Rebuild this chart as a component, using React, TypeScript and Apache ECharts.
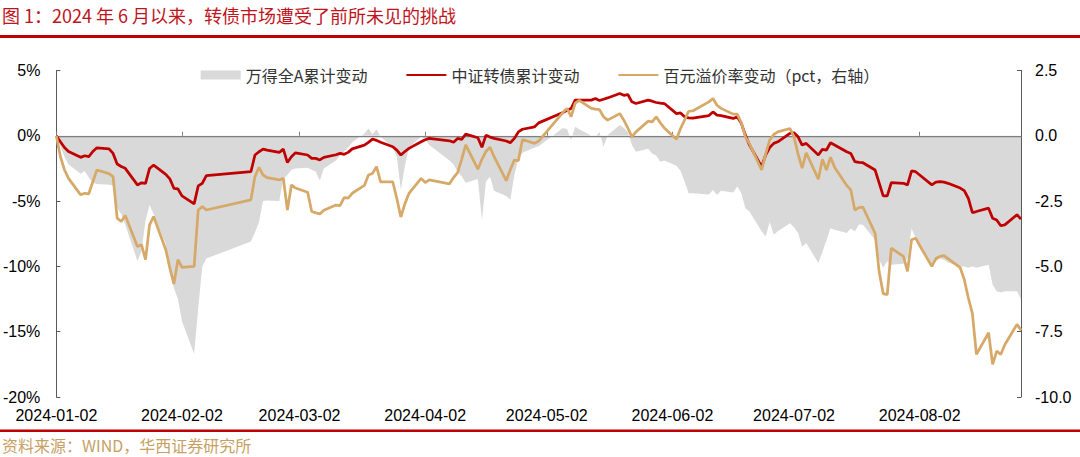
import React, { useEffect, useRef } from 'react';
import * as echarts from 'echarts';

const TITLE = '图 1：2024 年 6 月以来，转债市场遭受了前所未见的挑战';
const SOURCE = '资料来源：WIND，华西证券研究所';
const NAME_A = '万得全A累计变动';
const NAME_CB = '中证转债累计变动';
const NAME_PREM = '百元溢价率变动（pct，右轴）';
const YEAR = '2024';
const X_MIN = '2024-01-02';
const X_MAX = '2024-08-27';
const X_TICKS = ['2024-01-02', '2024-02-02', '2024-03-02', '2024-04-02', '2024-05-02', '2024-06-02', '2024-07-02', '2024-08-02'];

// 万得全A累计变动 (%)
const aDates = ['01-02','01-03','01-04','01-05','01-08','01-09','01-10','01-11','01-12','01-15','01-16','01-17','01-18','01-19','01-22','01-23','01-24','01-25','01-26','01-29','01-30','01-31','02-01','02-02','02-05','02-06','02-07','02-08','02-19','02-20','02-21','02-22','02-23','02-26','02-27','02-28','02-29','03-01','03-04','03-05','03-06','03-07','03-08','03-11','03-12','03-13','03-14','03-15','03-18','03-19','03-20','03-21','03-22','03-25','03-26','03-27','03-28','03-29','04-01','04-02','04-03','04-08','04-09','04-10','04-11','04-12','04-15','04-16','04-17','04-18','04-19','04-22','04-23','04-24','04-25','04-26','04-29','04-30','05-06','05-07','05-08','05-09','05-10','05-13','05-14','05-15','05-16','05-17','05-20','05-21','05-22','05-23','05-24','05-27','05-28','05-29','05-30','05-31','06-03','06-04','06-05','06-06','06-07','06-11','06-12','06-13','06-14','06-17','06-18','06-19','06-20','06-21','06-24','06-25','06-26','06-27','06-28','07-01','07-02','07-03','07-04','07-05','07-08','07-09','07-10','07-11','07-12','07-15','07-16','07-17','07-18','07-19','07-22','07-23','07-24','07-25','07-26','07-29','07-30','07-31','08-01','08-02','08-05','08-06','08-07','08-08','08-09','08-12','08-13','08-14','08-15','08-16','08-19','08-20','08-21','08-22','08-23','08-26','08-27'];
const aValues = [0,-0.8,-1.6,-2.2,-2.9,-2.7,-3.2,-3.6,-3.7,-3.75,-3.8,-5.5,-6.0,-6.8,-9.6,-8.85,-6.5,-5.3,-6.0,-8.3,-10.5,-11.65,-12.5,-14.2,-16.7,-13.2,-10.0,-9.4,-8.1,-7.4,-6.6,-5.0,-4.95,-5.0,-3.3,-3.0,-2.6,-2.5,-2.45,-2.6,-2.75,-3.45,-2.5,-1.9,-1.5,-1.2,-0.9,-0.5,0.18,0.56,0.1,0.5,-0.08,-0.9,-1.6,-4.15,-2.3,-0.9,-0.08,-0.2,-0.7,-1.9,-2.2,-2.75,-3.1,-3.6,-3.3,-6.44,-3.5,-3.13,-4.2,-4.6,-4.9,-3.0,-1.73,-1.3,-0.9,-0.8,0.6,0.5,-0.33,0.69,0.5,0.0,-0.08,0.3,-0.84,0.05,0.82,0.6,0.3,-0.71,-1.22,-1.0,-1.35,-1.5,-1.98,-1.9,-2.3,-2.7,-3.5,-4.4,-4.4,-4.5,-4.15,-4.53,-4.2,-4.35,-3.89,-4.4,-5.54,-5.8,-7.3,-7.71,-6.6,-7.58,-7.3,-6.69,-7.0,-7.45,-8.5,-8.2,-9.74,-8.9,-8.0,-7.07,-7.2,-7.45,-7.1,-7.33,-6.8,-6.82,-7.96,-9.5,-10.1,-9.6,-9.87,-9.8,-9.36,-7.1,-7.8,-8.5,-10.0,-9.6,-9.4,-9.5,-9.7,-10.0,-10.0,-10.1,-10.0,-10.1,-9.87,-11.4,-11.9,-12.0,-11.9,-11.9,-12.5];

// 中证转债累计变动 (%)
const cbDates = aDates;
const cbValues = [0,-0.46,-0.9,-1.2,-1.65,-1.53,-1.6,-1.2,-0.92,-1.0,-1.35,-2.16,-2.35,-2.49,-3.76,-3.6,-3.64,-2.5,-2.24,-2.95,-3.3,-4.02,-4.07,-4.6,-5.21,-3.84,-3.64,-3.05,-2.75,-1.47,-1.22,-1.02,-1.1,-1.27,-1.02,-2.05,-1.6,-1.3,-1.47,-1.73,-1.73,-1.85,-1.65,-1.45,-1.35,-1.42,-1.27,-1.0,-0.71,-0.5,-0.25,-0.35,-0.5,-0.84,-1.1,-1.47,-1.2,-0.96,-0.46,-0.3,-0.2,-0.38,-0.5,-0.2,-0.27,0.13,-0.15,-0.88,0.05,-0.1,-0.2,-0.4,-0.53,-0.2,0.3,0.5,0.69,0.99,1.79,1.95,2.09,2.73,2.73,2.73,2.85,2.7,2.8,2.9,3.24,3.1,3.16,2.6,2.47,2.73,2.65,2.55,2.5,2.47,1.7,1.75,1.45,1.37,1.35,1.55,1.83,1.58,1.55,1.33,1.45,0.95,0.05,-0.7,-2.37,-1.47,-0.9,-0.58,-0.46,0.18,0.23,-0.08,-0.71,-0.58,-1.47,-1.04,-1.09,-0.53,-0.7,-1.22,-1.35,-1.98,-2.03,-2.06,-2.62,-3.6,-4.6,-4.6,-3.59,-3.64,-3.76,-2.69,-2.75,-3.0,-3.76,-3.55,-3.51,-3.55,-3.64,-4.0,-4.2,-4.78,-5.88,-5.8,-5.54,-6.31,-6.44,-6.89,-6.82,-6.05,-6.38];

// 百元溢价率变动 (pct, 右轴)
const premDates = aDates;
const premValues = [0,-0.8,-1.3,-1.63,-2.26,-2.2,-2.22,-1.76,-1.31,-1.45,-1.56,-3.15,-3.28,-3.05,-4.24,-4.17,-4.74,-3.41,-3.09,-4.36,-5.06,-5.67,-4.74,-5.04,-5.0,-2.84,-2.71,-2.84,-2.45,-1.56,-1.21,-1.5,-1.6,-1.69,-1.63,-2.84,-1.88,-2.0,-2.16,-2.9,-2.95,-2.99,-2.85,-2.65,-2.67,-2.37,-2.39,-2.2,-1.9,-1.5,-1.44,-1.18,-1.76,-1.76,-2.4,-3.11,-2.6,-2.2,-1.63,-1.79,-1.69,-1.84,-1.6,-1.41,-0.9,-0.35,-1.28,-0.9,-0.6,-0.44,-0.8,-1.72,-1.3,-0.93,-0.95,-0.14,-0.29,-0.2,0.9,1.05,0.73,1.25,1.36,1.05,1.02,1.0,0.73,0.6,0.85,0.6,0.3,-0.04,0.15,0.56,0.53,0.73,0.5,0.3,-0.13,0.28,0.6,0.94,0.95,1.3,1.43,1.17,1.05,0.83,0.83,0.5,-0.04,-0.3,-1.31,-0.7,-0.16,0.05,0.15,0.28,-0.04,-0.7,-1.24,-0.65,-1.66,-0.9,-1.31,-0.82,-1.2,-1.9,-2.07,-2.84,-2.75,-2.73,-3.73,-5.2,-6.04,-6.08,-4.3,-4.62,-5.19,-3.98,-3.92,-4.2,-5.0,-4.7,-4.62,-4.59,-4.7,-5.05,-5.5,-6.2,-6.8,-8.37,-7.54,-8.75,-8.24,-8.37,-8.0,-7.22,-7.44];

const LEFT_MIN = -20, LEFT_MAX = 5, LEFT_STEP = 5;
const RIGHT_MIN = -10, RIGHT_MAX = 2.5, RIGHT_STEP = 2.5;

const ts = (s: string) => {
  const [y, m, d] = s.split('-').map(Number);
  return Date.UTC(y, m - 1, d);
};
const pair = (dates: string[], vals: number[]) => dates.map((d, i) => [ts(`${YEAR}-${d}`), vals[i]]);
const pad = (n: number) => (n < 10 ? '0' + n : '' + n);
const fmtDate = (v: number) => {
  const d = new Date(v);
  return `${d.getUTCFullYear()}-${pad(d.getUTCMonth() + 1)}-${pad(d.getUTCDate())}`;
};

export default function App() {
  const ref = useRef<HTMLDivElement>(null);
  useEffect(() => {
    if (!ref.current) return;
    const chart = echarts.init(ref.current, null, { renderer: 'svg' });
    const tickTs = X_TICKS.map(ts);
    const axisFont = 'Liberation Sans';
    const cjk = 'Noto Sans CJK SC';
    chart.setOption({
      animation: false,
      backgroundColor: '#fff',
      title: {
        text: TITLE,
        left: 2,
        top: 6,
        padding: 0,
        textStyle: { color: '#C0141C', fontSize: 18, fontWeight: 'normal', fontFamily: cjk },
      },
      graphic: [
        { type: 'rect', left: 0, top: 35, shape: { width: 1080, height: 3 }, style: { fill: '#C00000' }, silent: true },
        { type: 'rect', left: 0, top: 429.5, shape: { width: 1080, height: 2.5 }, style: { fill: '#C00000' }, silent: true },
        { type: 'text', left: 2, top: 437, style: { text: SOURCE, fill: '#C8A063', font: `16px "${cjk}"` }, silent: true },
      ],
      legend: {
        top: 62,
        left: 'center',
        itemWidth: 40,
        itemHeight: 9,
        itemGap: 38,
        textStyle: { fontSize: 16, color: '#333', fontFamily: cjk },
        data: [
          { name: NAME_A, icon: 'rect', itemStyle: { color: '#D9D9D9' } },
          { name: NAME_CB, itemStyle: { opacity: 0 } },
          { name: NAME_PREM, itemStyle: { opacity: 0 } },
        ],
      },
      grid: { left: 56, right: 59, top: 70.5, bottom: 60, containLabel: false },
      xAxis: [
        {
          type: 'value',
          min: ts(X_MIN),
          max: ts(X_MAX),
          position: 'bottom',
          z: 3,
          axisLine: { show: true, onZero: true, onZeroAxisIndex: 0, lineStyle: { color: '#7F7F7F', width: 1.25 } },
          axisTick: { show: true, inside: true, length: 4, customValues: tickTs, lineStyle: { color: '#7F7F7F', width: 1 } },
          axisLabel: { show: false },
          splitLine: { show: false },
        },
        {
          type: 'value',
          min: ts(X_MIN),
          max: ts(X_MAX),
          position: 'bottom',
          axisLine: { show: false, onZero: false },
          axisTick: { show: false },
          splitLine: { show: false },
          axisLabel: {
            customValues: tickTs,
            formatter: (v: number) => fmtDate(v),
            fontSize: 16,
            color: '#000',
            fontFamily: axisFont,
            margin: 10,
            hideOverlap: false,
          },
        },
      ],
      yAxis: [
        {
          type: 'value',
          position: 'left',
          min: LEFT_MIN,
          max: LEFT_MAX,
          interval: LEFT_STEP,
          axisLine: { show: true, onZero: false, lineStyle: { color: '#595959' } },
          axisTick: { show: true, inside: true, length: 4, lineStyle: { color: '#595959' } },
          splitLine: { show: false },
          axisLabel: { formatter: '{value}%', fontSize: 16, color: '#000', fontFamily: axisFont, margin: 16 },
        },
        {
          type: 'value',
          position: 'right',
          min: RIGHT_MIN,
          max: RIGHT_MAX,
          interval: RIGHT_STEP,
          axisLine: { show: true, onZero: false, lineStyle: { color: '#595959' } },
          axisTick: { show: true, inside: true, length: 4, lineStyle: { color: '#595959' } },
          splitLine: { show: false },
          axisLabel: { formatter: (v: number) => v.toFixed(1), fontSize: 16, color: '#000', fontFamily: axisFont, margin: 14 },
        },
      ],
      series: [
        {
          name: NAME_A,
          type: 'line',
          xAxisIndex: 0,
          yAxisIndex: 0,
          data: pair(aDates, aValues),
          symbol: 'none',
          color: '#D9D9D9',
          lineStyle: { width: 0, opacity: 0 },
          areaStyle: { color: '#D9D9D9', opacity: 1 },
          z: 1,
        },
        {
          name: NAME_CB,
          type: 'line',
          xAxisIndex: 0,
          yAxisIndex: 0,
          data: pair(cbDates, cbValues),
          symbol: 'none',
          color: '#C00000',
          lineStyle: { width: 2.75, color: '#C00000' },
          z: 3,
        },
        {
          name: NAME_PREM,
          type: 'line',
          xAxisIndex: 0,
          yAxisIndex: 1,
          data: pair(premDates, premValues),
          symbol: 'none',
          color: '#D6A968',
          lineStyle: { width: 2.75, color: '#D6A968' },
          z: 4,
        },
      ],
    });
    return () => chart.dispose();
  }, []);
  return <div ref={ref} style={{ position: 'absolute', left: 0, top: 0, width: 1080, height: 457 }} />;
}
